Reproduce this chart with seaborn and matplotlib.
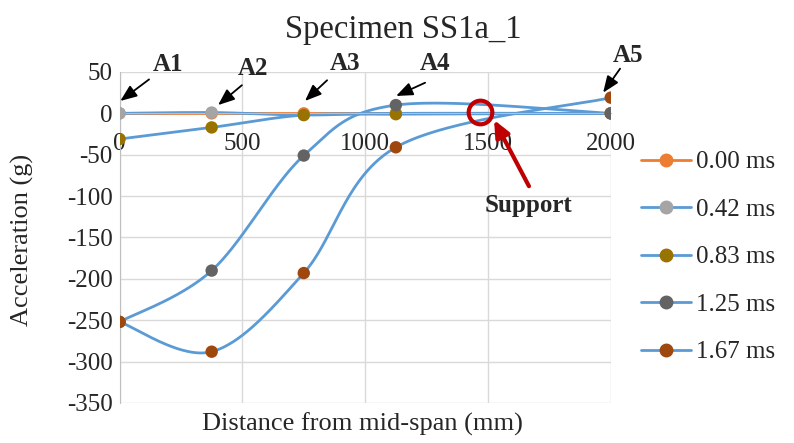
import numpy as np
import pandas as pd
import matplotlib
matplotlib.use("Agg")
import matplotlib.pyplot as plt
from matplotlib.lines import Line2D
import seaborn as sns

# ---------------- data ----------------
distance = [0, 375, 750, 1125, 2000]          # sensor positions A1..A5 (mm)
sensor_labels = ["A1", "A2", "A3", "A4", "A5"]
series_names = ["0.00 ms", "0.42 ms", "0.83 ms", "1.25 ms", "1.67 ms"]
acc_000 = [0, 0, 0, 0, 0]
acc_042 = [0, 1, -2, 0, 0]
acc_083 = [-31, -17, -2, -1, 0]
acc_125 = [-252, -190, -51, 10, 0]
acc_167 = [-252, -288, -193, -41, 19]
support_x, support_y = 1468, 1.6

series_values = [acc_000, acc_042, acc_083, acc_125, acc_167]
line_colors = ["#ED7D31", "#5B9BD5", "#5B9BD5", "#5B9BD5", "#5B9BD5"]
marker_colors = ["#ED7D31", "#A5A5A5", "#997300", "#636363", "#9E480E"]

sns.set_style("white")
plt.rcParams["font.family"] = ["Liberation Serif", "DejaVu Serif"]
plt.rcParams["axes.unicode_minus"] = False


def smooth(xs, ys, n=60):
    """Excel-like smoothed line (Catmull-Rom Bezier through points)."""
    P = np.column_stack([xs, ys]).astype(float)
    m = len(P)
    out = []
    for i in range(m - 1):
        p0 = P[i - 1] if i > 0 else P[i]
        p1 = P[i]
        p2 = P[i + 1]
        p3 = P[i + 2] if i + 2 < m else P[i + 1]
        c1 = p1 + (p2 - p0) / 6.0
        c2 = p2 - (p3 - p1) / 6.0
        t = np.linspace(0, 1, n)[:, None]
        seg = ((1 - t) ** 3) * p1 + 3 * ((1 - t) ** 2) * t * c1 + 3 * (1 - t) * t ** 2 * c2 + t ** 3 * p2
        out.append(seg if i == 0 else seg[1:])
    seg = np.vstack(out)
    return seg[:, 0], seg[:, 1]


fig = plt.figure(figsize=(7.94, 4.43), dpi=100)
ax = fig.add_axes([0.1506, 0.0903, 0.6186, 0.7472])

# lines first
for name, vals, lc in zip(series_names, series_values, line_colors):
    sx, sy = smooth(distance, vals)
    df = pd.DataFrame({"x": sx, "y": sy})
    sns.lineplot(data=df, x="x", y="y", ax=ax, color=lc, lw=2.0, sort=False,
                 estimator=None, legend=False, zorder=2)
# markers on top
for name, vals, mc in zip(series_names, series_values, marker_colors):
    dfp = pd.DataFrame({"x": distance, "y": vals})
    sns.scatterplot(data=dfp, x="x", y="y", ax=ax, color=mc, s=80,
                    edgecolor="none", legend=False, zorder=3)

ax.set_xlim(0, 2000)
ax.set_ylim(-350, 50)
ax.set_xticks([0, 500, 1000, 1500, 2000])
ax.set_yticks(np.arange(-350, 51, 50))
ax.grid(True, color="#D9D9D9", lw=1.0)
ax.set_axisbelow(True)
for s in ["top", "right"]:
    ax.spines[s].set_visible(False)
ax.spines["left"].set_color("#BFBFBF")
ax.spines["bottom"].set_color("#BFBFBF")
ax.spines["bottom"].set_position(("data", 0))
ax.tick_params(axis="both", length=0, labelsize=18)
ax.tick_params(axis="x", pad=14)
ax.tick_params(axis="y", pad=5)
ax.set_xlabel("")
ax.set_ylabel("")

fig.text(0.456, 0.043, "Distance from mid-span (mm)", ha="center", va="center", fontsize=19)
fig.text(0.028, 0.458, "Acceleration (g)", ha="center", va="center", rotation=90, fontsize=19)
fig.text(0.508, 0.933, "Specimen SS1a_1", ha="center", va="center", fontsize=23.5)

# sensor annotations (label text, arrow tail, arrow tip)
ann_text = [(197, 59), (543, 54), (917, 60), (1284, 60), (2070, 70)]
ann_tail = [(120, 41), (498, 34), (845, 40), (1244, 37), (2038, 54)]
ann_tip = [(3, 15), (401, 10), (755, 15), (1126, 21), (1969, 25)]
for lab, tx, tl, tp in zip(sensor_labels, ann_text, ann_tail, ann_tip):
    ax.annotate("", xy=tp, xytext=tl, annotation_clip=False,
                arrowprops=dict(arrowstyle="-|>,head_length=1.0,head_width=0.4",
                                color="black", lw=1.3, shrinkA=0, shrinkB=0))
    ax.text(tx[0], tx[1], lab, ha="center", va="center", fontsize=18,
            fontweight="bold", clip_on=False)

# support marker
ax.plot([support_x], [support_y], marker="o", ms=17, mfc="none", mec="#C00000",
        mew=3, zorder=5)
ax.annotate("", xy=(1525, -8), xytext=(1667, -88), annotation_clip=False,
            arrowprops=dict(arrowstyle="-|>,head_length=1.0,head_width=0.45",
                            color="#C00000", lw=3, shrinkA=0, shrinkB=0), zorder=5)
ax.text(1667, -111, "Support", ha="center", va="center", fontsize=18,
        fontweight="bold")

handles = [Line2D([0], [0], color=lc, lw=2.0, marker="o", ms=9, mfc=mc, mec=mc)
           for lc, mc in zip(line_colors, marker_colors)]
fig.legend(handles, series_names, loc="upper left", bbox_to_anchor=(0.795, 0.682),
           frameon=False, fontsize=18, handlelength=2.0, handletextpad=0.2,
           labelspacing=1.0, borderaxespad=0)

fig.savefig("out.png", dpi=100)
